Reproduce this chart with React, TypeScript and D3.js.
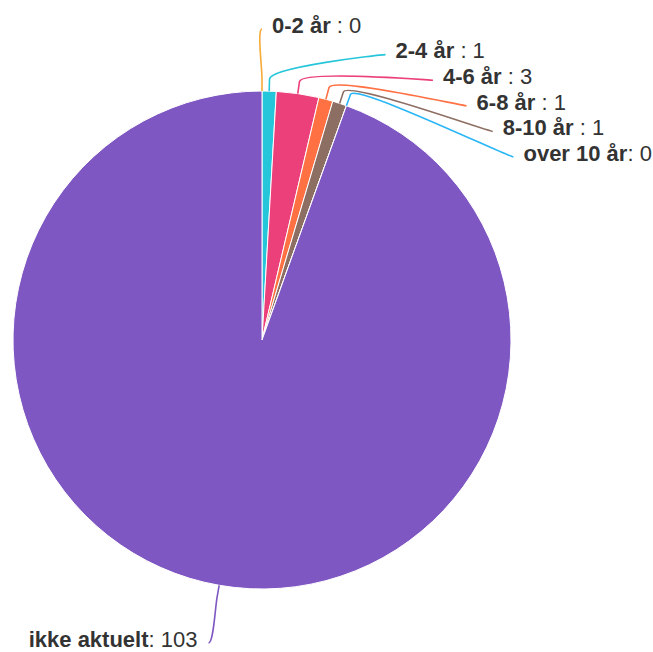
import React from "react";
import * as d3 from "d3";

const categories = ["0-2 år ", "2-4 år ", "4-6 år ", "6-8 år ", "8-10 år ", "over 10 år", "ikke aktuelt"];
const values = [0, 1, 3, 1, 1, 0, 103];
const colors = ["#f5ab35", "#26c6da", "#ec407a", "#ff7043", "#8d6e63", "#29b6f6", "#7e57c2"];

const W = 653;
const H = 652;
const CX = 262;
const CY = 340;
const R = 249;
const LABEL_DIST = 62;
const BREAK_DIST = 12;
const SPACING = 25.6;
const MAX_Y = 643;
const FONT = "'Liberation Sans', Arial, Helvetica, sans-serif";

type Item = { name: string; value: number; color: string };

export default function App() {
  const data: Item[] = categories.map((c, i) => ({ name: c, value: values[i], color: colors[i] }));
  const pie = d3.pie<Item>().value((d) => d.value).sort(null).startAngle(0).endAngle(2 * Math.PI);
  const arcs = pie(data);
  const arcGen = d3.arc<d3.PieArcDatum<Item>>().innerRadius(0).outerRadius(R);
  const RL = R + LABEL_DIST;

  const labels = arcs.map((a) => {
    const mid = (a.startAngle + a.endAngle) / 2;
    const right = mid < Math.PI;
    const ny = CY - RL * Math.cos(mid);
    return {
      a,
      mid,
      right,
      ny,
      y: ny,
      x: CX + RL * Math.sin(mid),
    };
  });

  // distribute right side
  const rightL = labels.filter((l) => l.right).sort((p, q) => p.ny - q.ny);
  for (let i = 1; i < rightL.length; i++) {
    if (rightL[i].y < rightL[i - 1].y + SPACING) rightL[i].y = rightL[i - 1].y + SPACING;
  }
  rightL.forEach((l) => {
    if (l.y !== l.ny) {
      const dy = l.y - CY;
      l.x = CX + Math.sqrt(Math.max(0, RL * RL - dy * dy));
    }
  });
  const leftL = labels.filter((l) => !l.right).sort((p, q) => q.ny - p.ny);
  for (let i = 0; i < leftL.length; i++) {
    if (i === 0) leftL[i].y = Math.min(leftL[i].y, MAX_Y);
    else if (leftL[i].y > leftL[i - 1].y - SPACING) leftL[i].y = leftL[i - 1].y - SPACING;
  }

  return (
    <svg width={W} height={H} style={{ position: "absolute", left: 0, top: 0, background: "#fff" }}>
      <g transform={`translate(${CX},${CY})`}>
        {arcs.map((a, i) => (
          <path key={i} d={arcGen(a) || ""} fill={a.data.color} stroke="#ffffff" strokeWidth={1} strokeLinejoin="round" />
        ))}
      </g>
      {labels.map((l, i) => {
        const x = l.x;
        const y = l.y;
        const tx = CX + R * Math.sin(l.mid);
        const ty = CY - R * Math.cos(l.mid);
        const bx = CX + (R + BREAK_DIST) * Math.sin(l.mid);
        const by = CY - (R + BREAK_DIST) * Math.cos(l.mid);
        const path = `M${x},${y} C${x + (l.right ? -5 : 5)},${y} ${2 * bx - tx},${2 * by - ty} ${bx},${by} L${tx},${ty}`;
        return (
          <g key={i}>
            <path d={path} fill="none" stroke={l.a.data.color} strokeWidth={1.6} />
            <text
              x={l.right ? x + 10 : x - 11}
              y={y + 3.8}
              textAnchor={l.right ? "start" : "end"}
              fontFamily={FONT}
              fontSize={22}
              fill="#333333"
            >
              <tspan fontWeight="bold">{l.a.data.name}</tspan>
              <tspan>{`: ${l.a.data.value}`}</tspan>
            </text>
          </g>
        );
      })}
    </svg>
  );
}
